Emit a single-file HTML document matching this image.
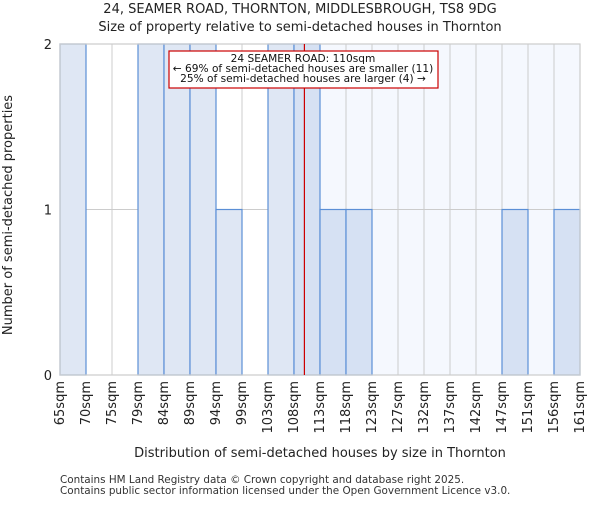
<!DOCTYPE html>
<html><head><meta charset="utf-8"><style>
body{margin:0;background:#fff;font-family:"Liberation Sans","DejaVu Sans",sans-serif}
</style></head><body>
<svg id="chart" width="600" height="500" xmlns="http://www.w3.org/2000/svg" font-family="DejaVu Sans, Liberation Sans, sans-serif">
<text x="300" y="13" text-anchor="middle" font-size="13" fill="#222">24, SEAMER ROAD, THORNTON, MIDDLESBROUGH, TS8 9DG</text>
<text x="300" y="31" text-anchor="middle" font-size="13" fill="#222">Size of property relative to semi-detached houses in Thornton</text>
<rect x="305" y="44" width="275" height="331" fill="#f5f8fe"/>
<g id="grid"></g>
<g id="bars"></g>
<g id="axes"></g>
<text transform="translate(12,215) rotate(-90)" text-anchor="middle" font-size="13" fill="#222">Number of semi-detached properties</text>
<text x="320" y="457" text-anchor="middle" font-size="13" fill="#222">Distribution of semi-detached houses by size in Thornton</text>
<text x="60" y="483" font-size="10.4" fill="#333">Contains HM Land Registry data © Crown copyright and database right 2025.</text>
<text x="60" y="494" font-size="10.4" fill="#333">Contains public sector information licensed under the Open Government Licence v3.0.</text>
</svg>
<script>
const categories=["65sqm","70sqm","75sqm","79sqm","84sqm","89sqm","94sqm","99sqm","103sqm","108sqm","113sqm","118sqm","123sqm","127sqm","132sqm","137sqm","142sqm","147sqm","151sqm","156sqm","161sqm"];
const counts=[2,0,0,2,2,2,1,0,2,2,1,1,0,0,0,0,0,1,0,1];
const yTicks=[0,1,2];
const propertySize=110;
const binStarts=[65,70,75,79,84,89,94,99,103,108,113,118,123,127,132,137,142,147,151,156,161];
const NS="http://www.w3.org/2000/svg";
const L=60,R=580,T=44,B=375,yMax=2;
const nb=counts.length,bw=(R-L)/nb;
const xs=i=>L+i*bw;
const ys=v=>B-(B-T)*v/yMax;
function mk(tag,attrs,parent){const e=document.createElementNS(NS,tag);for(const k in attrs)e.setAttribute(k,attrs[k]);parent.appendChild(e);return e;}
const grid=document.getElementById('grid'),bars=document.getElementById('bars'),axes=document.getElementById('axes');
let mi=0;for(let i=0;i<nb;i++){if(propertySize>=binStarts[i])mi=i;}
const markerX=xs(mi)+bw*(propertySize-binStarts[mi])/(binStarts[mi+1]-binStarts[mi]);
for(let i=0;i<=nb;i++){const l=mk('line',{x1:xs(i),x2:xs(i),y1:T,y2:B,stroke:'#cccccc','stroke-width':1},grid);

}
yTicks.forEach(t=>{const l=mk('line',{x1:L,x2:R,y1:ys(t),y2:ys(t),stroke:'#cccccc','stroke-width':1},grid);

});
counts.forEach((c,i)=>{if(c<=0)return;const x=xs(i);
const r=mk('rect',{x:x,y:ys(c),width:bw,height:B-ys(c),fill:(x+bw/2>markerX?'#d6e1f3':'#dfe7f4'),stroke:'#5b8fd6','stroke-width':1.2},bars);

});
const ax=mk('rect',{x:L,y:T,width:R-L,height:B-T,fill:'none',stroke:'#cccccc','stroke-width':1.2},axes);


yTicks.forEach(t=>{const tx=mk('text',{x:L-8,y:ys(t)+5,'text-anchor':'end','font-size':13,fill:'#222'},axes);tx.textContent=t;

});
categories.forEach((c,i)=>{const x=xs(i)+4;const tx=mk('text',{transform:`translate(${x},${B+6}) rotate(-90)`,'text-anchor':'end','font-size':13,fill:'#222'},axes);tx.textContent=c;

});
const ml=mk('line',{x1:markerX,x2:markerX,y1:T,y2:B,stroke:'#cc0000','stroke-width':1.2},axes);


const box=mk('rect',{x:169,y:51,width:269,height:37,fill:'#fff',stroke:'#cc0000','stroke-width':1.2},axes);


["24 SEAMER ROAD: "+propertySize+"sqm","← 69% of semi-detached houses are smaller (11)","25% of semi-detached houses are larger (4) →"].forEach((s,k)=>{
const tx=mk('text',{x:303,y:62+k*10,'text-anchor':'middle','font-size':10.6,fill:'#111'},axes);tx.textContent=s;

});
</script>
</body></html>
